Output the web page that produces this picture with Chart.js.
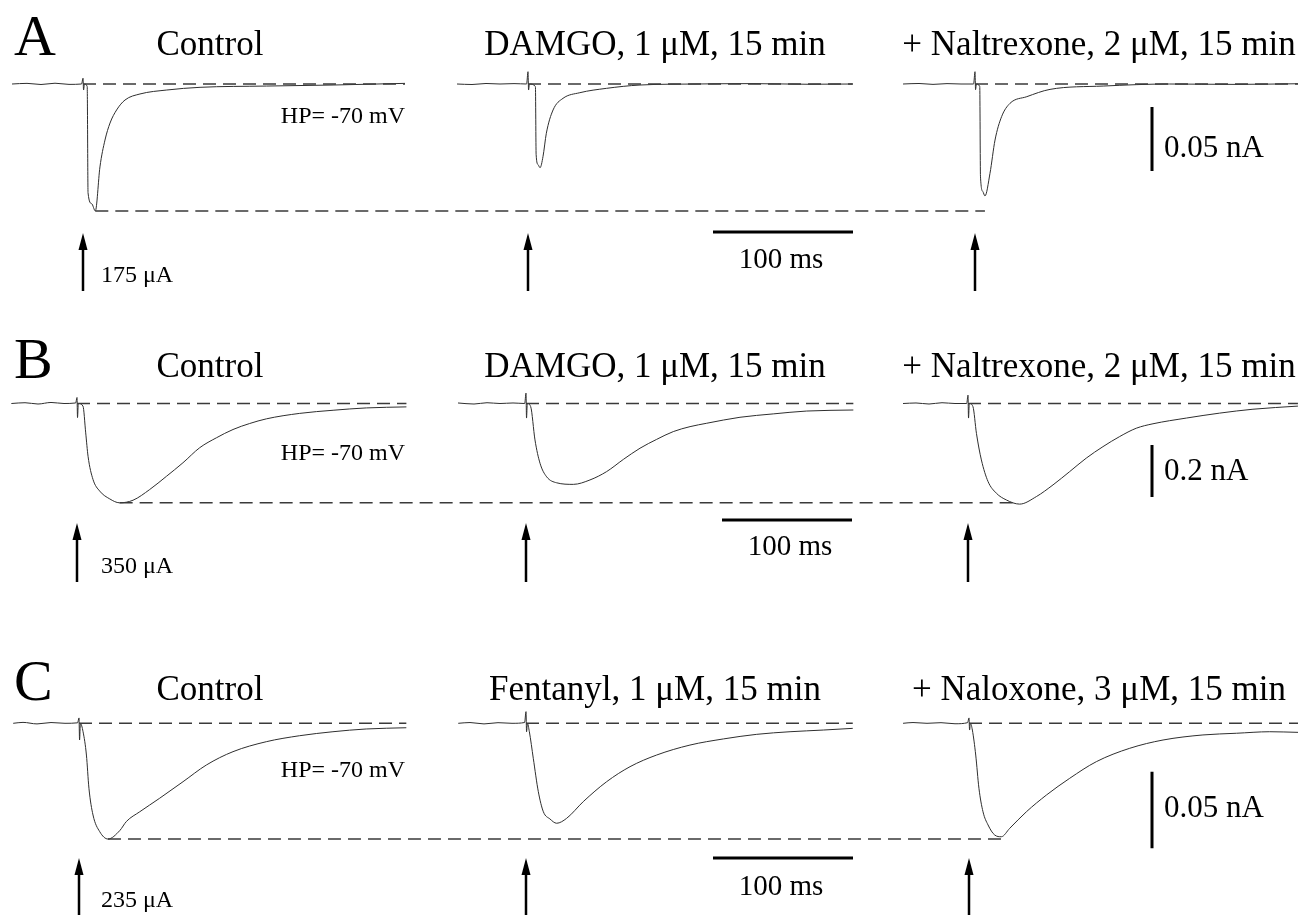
<!DOCTYPE html>
<html>
<head>
<meta charset="utf-8">
<script src="https://cdn.jsdelivr.net/npm/chart.js@4.4.1/dist/chart.umd.min.js"></script>
<style>
  html, body { margin: 0; padding: 0; background: #fff; }
  canvas { display: block; }
</style>
</head>
<body>
<canvas id="traceChart" width="1302" height="915"></canvas>
<script>
// times in ms from the stimulus, currents in nA
let aCtrlT = [-50.7, -40, -30, -20, -10, -1, 0, 0.4, 1, 3.0, 3.6, 6.2, 8.8, 12.1, 15.7, 19.3, 24, 30, 40.7, 59.8, 83.6, 131, 178.6, 230];
let aCtrlI = [0, 0.0005, -0.0004, 0.0006, -0.0003, 0, 0.0045, -0.0047, 0, -0.002, -0.085, -0.0935, -0.0992, -0.0648, -0.0438, -0.0305, -0.0203, -0.0125, -0.0078, -0.0047, -0.0026, -0.0016, -0.0008, 0.0005];
let aDamgoT = [-50.7, -40, -30, -20, -10, -1, 0, 0.4, 1, 5.3, 5.8, 7.2, 8.6, 10.7, 13.1, 17.9, 25, 37, 56, 80, 120, 160, 200, 232];
let aDamgoI = [0, -0.0004, 0.0004, 0, 0.0003, 0, 0.0096, -0.0047, 0, -0.002, -0.055, -0.063, -0.0654, -0.0568, -0.0385, -0.0203, -0.0112, -0.0068, -0.0034, -0.0008, 0, 0.0003, -0.0002, 0];
let aNaltT = [-51.4, -40, -30, -20, -10, -1, 0, 0.4, 1, 3.4, 3.9, 5.6, 7.1, 10.7, 14.3, 19, 25, 37, 53.6, 91.6, 139, 185, 230.7];
let aNaltI = [0, 0.0004, -0.0003, 0.0003, 0, 0, 0.0096, -0.0044, 0, -0.002, -0.072, -0.084, -0.0875, -0.0698, -0.0438, -0.0255, -0.0151, -0.0099, -0.0042, -0.0016, 0, -0.0003, 0.0002];

let bCtrlT = [-50.5, -40, -30, -20, -10, -1, 0, 0.4, 1, 4.6, 6.7, 8.5, 12.3, 17.5, 25.2, 32.8, 43.1, 55.9, 68.8, 81.5, 94.4, 107.2, 120, 132.8, 145.7, 171.3, 197, 222.6, 253.4];
let bCtrlI = [0, 0.003, -0.002, 0.004, 0, 0.002, 0.023, -0.054, 0, -0.010, -0.113, -0.203, -0.292, -0.337, -0.367, -0.382, -0.372, -0.331, -0.280, -0.228, -0.170, -0.132, -0.100, -0.077, -0.059, -0.038, -0.026, -0.017, -0.013];
let bDamgoT = [-52.3, -40, -30, -20, -10, -1, 0, 0.4, 1, 3.6, 6.9, 10.8, 15.9, 23.6, 36.4, 49.2, 62, 74.9, 87.7, 100.5, 113.3, 126.2, 139, 164.6, 190.2, 215.9, 251.8];
let bDamgoI = [0.002, -0.002, 0.003, 0, 0.002, 0, 0.04, -0.056, 0, -0.012, -0.140, -0.230, -0.282, -0.305, -0.311, -0.294, -0.262, -0.215, -0.172, -0.138, -0.108, -0.089, -0.076, -0.053, -0.040, -0.029, -0.025];
let bNaltT = [-50, -40, -30, -20, -10, -1, 0, 0.4, 1, 3.8, 6.5, 10.3, 15.4, 21.8, 29.5, 39.7, 52.6, 65.4, 78.2, 91, 103.8, 116.7, 129.5, 142.3, 168, 193.6, 219.2, 253.8];
let bNaltI = [0, 0.002, -0.002, 0.003, 0, 0, 0.032, -0.056, 0, -0.012, -0.115, -0.217, -0.300, -0.345, -0.371, -0.387, -0.358, -0.313, -0.262, -0.210, -0.166, -0.127, -0.095, -0.078, -0.056, -0.037, -0.022, -0.010];

let cCtrlT = [-47, -40, -30, -20, -10, -1, 0, 0.4, 1, 2.9, 5.3, 7.1, 10, 14.8, 20.7, 29.1, 33.9, 43.4, 57.6, 74.3, 91, 110, 133.8, 157.6, 181.4, 205.2, 233.8];
let cCtrlI = [0, 0.0006, -0.0004, 0.0005, 0, 0.0003, 0.0035, -0.0109, 0, -0.0055, -0.0207, -0.0424, -0.0598, -0.0707, -0.0755, -0.070, -0.064, -0.0577, -0.0489, -0.0381, -0.0272, -0.0185, -0.012, -0.0081, -0.0055, -0.0037, -0.0029];
let cFentT = [-48.4, -40, -30, -20, -10, -1, 0, 0.4, 1, 2.4, 5.2, 8.8, 12.4, 17.1, 21.9, 29, 40.9, 57.6, 74.3, 93.3, 117.1, 141, 164.8, 188.6, 212.4, 233.4];
let cFentI = [0, 0.0005, -0.0004, 0.0004, 0, 0.0005, 0.0076, -0.0055, 0, -0.0055, -0.0228, -0.0446, -0.0577, -0.0624, -0.0652, -0.062, -0.0511, -0.0381, -0.0283, -0.0207, -0.0142, -0.0102, -0.0072, -0.0055, -0.0044, -0.0033];
let cNaloxT = [-47.1, -40, -30, -20, -10, -1, 0, 0.4, 1, 2.4, 4.8, 7.1, 10, 13.6, 18.4, 23.1, 29.1, 41, 55.3, 71.9, 91, 114.8, 138.6, 167.1, 191, 214.8, 235];
let cNaloxI = [0, 0.0005, 0, 0.0004, -0.0003, 0.0004, 0.0035, -0.0044, 0, -0.0044, -0.0207, -0.0424, -0.0577, -0.0663, -0.0729, -0.074, -0.0685, -0.0577, -0.0468, -0.0359, -0.025, -0.0163, -0.0109, -0.0076, -0.0065, -0.0055, -0.0059];

let titlesA = ['Control', 'DAMGO, 1 \u03bcM, 15 min', '+ Naltrexone, 2 \u03bcM, 15 min'];
let titlesB = ['Control', 'DAMGO, 1 \u03bcM, 15 min', '+ Naltrexone, 2 \u03bcM, 15 min'];
let titlesC = ['Control', 'Fentanyl, 1 \u03bcM, 15 min', '+ Naloxone, 3 \u03bcM, 15 min'];
let stimLabels = ['175 \u03bcA', '350 \u03bcA', '235 \u03bcA'];
let scaleLabels = ['0.05 nA', '0.2 nA', '0.05 nA'];
let scaleNA = [0.05, 0.2, 0.05];

const W = 1302, H = 915;

// page layout of each panel (pixels)
let panels = {
  A: { pxPerMs: 1.4, pxPerNA: 1280, basePx: 84, stimPx: [83, 528, 975], vBar: [1152, 107], hBar: [713, 232],
       arrow: [233, 291], titleY: 55, letterY: 55, hpY: 123, stimY: 282, msY: 268, nAY: 157,
       sweeps: [[aCtrlT, aCtrlI], [aDamgoT, aDamgoI], [aNaltT, aNaltI]], titles: titlesA },
  B: { pxPerMs: 1.3, pxPerNA: 260, basePx: 403.5, stimPx: [77, 526, 968], vBar: [1152, 445], hBar: [722, 520],
       arrow: [523, 582], titleY: 377, letterY: 378, hpY: 460, stimY: 573, msY: 555, nAY: 480,
       sweeps: [[bCtrlT, bCtrlI], [bDamgoT, bDamgoI], [bNaltT, bNaltI]], titles: titlesB },
  C: { pxPerMs: 1.4, pxPerNA: 1533, basePx: 723.3, stimPx: [79, 526, 969], vBar: [1152, 771.7], hBar: [713, 858],
       arrow: [858, 915], titleY: 700, letterY: 700, hpY: 777, stimY: 907, msY: 895, nAY: 817,
       sweeps: [[cCtrlT, cCtrlI], [cFentT, cFentI], [cNaloxT, cNaloxI]], titles: titlesC }
};
let titleX = [210, 655, 1099];

let scales = {};
let datasets = [];
let dash = { showLine: true, pointRadius: 0, borderColor: '#3a3a3a', borderWidth: 1.5, borderDash: [13, 7] };
let bar = { showLine: true, pointRadius: 0, borderColor: '#000', borderWidth: 3 };

Object.keys(panels).forEach((key, p) => {
  let pn = panels[key];
  let yMax = pn.basePx / pn.pxPerNA;
  scales['x' + key] = { type: 'linear', axis: 'x', display: false, min: 0, max: W / pn.pxPerMs };
  scales['y' + key] = { type: 'linear', axis: 'y', display: false, min: yMax - H / pn.pxPerNA, max: yMax };
  let ids = { xAxisID: 'x' + key, yAxisID: 'y' + key };
  let toMs = (px) => px / pn.pxPerMs;
  let toNA = (px) => (pn.basePx - px) / pn.pxPerNA;
  let peaks = [];

  pn.sweeps.forEach(([t, v], s) => {
    let off = toMs(pn.stimPx[s]);
    let k = v.indexOf(Math.min(...v));
    peaks.push({ x: t[k] + off, y: v[k] });
    // baseline from the stimulus to the end of the sweep
    datasets.push(Object.assign({ data: [{ x: off, y: 0 }, { x: t[t.length - 1] + off, y: 0 }] }, dash, ids));
  });
  // control peak level carried across to the last sweep
  datasets.push(Object.assign({ data: [{ x: peaks[0].x, y: peaks[0].y }, { x: peaks[2].x, y: peaks[0].y }] }, dash, ids));

  pn.sweeps.forEach(([t, v], s) => {
    let off = toMs(pn.stimPx[s]);
    datasets.push(Object.assign({
      data: t.map((x, i) => ({ x: x + off, y: v[i] })),
      showLine: true, pointRadius: 0, borderColor: '#2e2e2e', borderWidth: 1,
      cubicInterpolationMode: 'monotone'
    }, ids));
  });

  let vx = toMs(pn.vBar[0]), vy = toNA(pn.vBar[1]);
  datasets.push(Object.assign({ data: [{ x: vx, y: vy }, { x: vx, y: vy - scaleNA[p] }] }, bar, ids));
  let hx = toMs(pn.hBar[0]), hy = toNA(pn.hBar[1]);
  datasets.push(Object.assign({ data: [{ x: hx, y: hy }, { x: hx + 100, y: hy }] }, bar, ids));
});

let figureText = {
  id: 'figureText',
  afterDraw(chart) {
    let c = chart.ctx;
    c.save();
    c.fillStyle = '#000';
    c.strokeStyle = '#000';
    c.textBaseline = 'alphabetic';
    Object.keys(panels).forEach((key, p) => {
      let pn = panels[key];
      c.font = '58px "Liberation Serif"';
      c.textAlign = 'left';
      c.fillText(key, 14, pn.letterY);
      c.font = '35px "Liberation Serif"';
      c.textAlign = 'center';
      pn.titles.forEach((t, i) => c.fillText(t, titleX[i], pn.titleY));
      c.font = '24px "Liberation Serif"';
      c.textAlign = 'right';
      c.fillText('HP= -70 mV', 405, pn.hpY);
      c.textAlign = 'left';
      c.fillText(stimLabels[p], 101, pn.stimY);
      c.font = '29px "Liberation Serif"';
      c.textAlign = 'center';
      c.fillText('100 ms', pn.hBar[0] + 68, pn.msY);
      c.font = '31px "Liberation Serif"';
      c.textAlign = 'left';
      c.fillText(scaleLabels[p], pn.vBar[0] + 12, pn.nAY);

      // stimulus arrows
      let xs = chart.scales['x' + key];
      pn.stimPx.forEach((px) => {
        let x = xs.getPixelForValue(px / pn.pxPerMs);
        let top = pn.arrow[0], bottom = pn.arrow[1];
        c.lineWidth = 2.5;
        c.beginPath();
        c.moveTo(x, bottom);
        c.lineTo(x, top + 10);
        c.stroke();
        c.beginPath();
        c.moveTo(x, top);
        c.lineTo(x - 4.5, top + 17);
        c.lineTo(x + 4.5, top + 17);
        c.closePath();
        c.fill();
      });
    });
    c.restore();
  }
};

let ctx = document.getElementById('traceChart').getContext('2d');
// eslint-disable-next-line no-unused-vars
let traceChart = new Chart(ctx, {
  type: 'scatter',
  data: { datasets: datasets },
  options: {
    responsive: false,
    animation: false,
    devicePixelRatio: 1,
    layout: { padding: 0 },
    scales: scales,
    plugins: {
      legend: { display: false },
      tooltip: { enabled: false }
    }
  },
  plugins: [figureText]
});
</script>
</body>
</html>
